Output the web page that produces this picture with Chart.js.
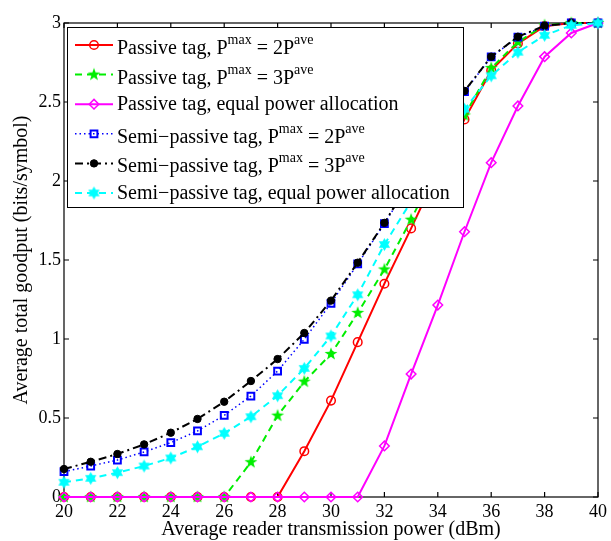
<!DOCTYPE html>
<html lang="en">
<head>
<meta charset="UTF-8">
<title>Average total goodput vs reader transmission power</title>
<script src="https://cdn.jsdelivr.net/npm/chart.js@4/dist/chart.umd.min.js"></script>
<style>
  body { margin: 0; background: #fff; }
  #wrap { width: 611px; height: 541px; }
</style>
</head>
<body>
<div id="wrap"><canvas id="chart" width="611" height="541"></canvas></div>
<script>
// reader transmission power (dBm)
const powerDbm = [20, 21, 22, 23, 24, 25, 26, 27, 28, 29, 30, 31, 32, 33, 34, 35, 36, 37, 38, 39, 40];

// goodput (bits/symbol) per curve
const passive2x   = [0, 0, 0, 0, 0, 0, 0, 0, 0, 0.29, 0.61, 0.98, 1.35, 1.70, 2.06, 2.39, 2.70, 2.87, 2.98, 3.0, 3.0];
const passive3x   = [0, 0, 0, 0, 0, 0, 0, 0.22, 0.515, 0.73, 0.905, 1.165, 1.44, 1.755, 2.10, 2.415, 2.715, 2.88, 2.985, 3.0, 3.0];
const passiveEq   = [0, 0, 0, 0, 0, 0, 0, 0, 0, 0, 0, 0, 0.323, 0.778, 1.215, 1.679, 2.116, 2.475, 2.787, 2.937, 3.0];
const semi2x      = [0.16, 0.196, 0.234, 0.285, 0.344, 0.418, 0.517, 0.639, 0.797, 0.998, 1.226, 1.475, 1.73, 2.0, 2.29, 2.565, 2.785, 2.91, 2.98, 3.0, 3.0];
const semi3x      = [0.177, 0.223, 0.272, 0.333, 0.407, 0.494, 0.603, 0.734, 0.873, 1.038, 1.243, 1.483, 1.735, 2.01, 2.30, 2.57, 2.787, 2.913, 2.983, 3.0, 3.0];
const semiEq      = [0.093, 0.118, 0.154, 0.196, 0.247, 0.318, 0.403, 0.508, 0.641, 0.814, 1.019, 1.28, 1.598, 1.87, 2.17, 2.454, 2.666, 2.815, 2.922, 2.985, 3.0];

const xTicks = [20, 22, 24, 26, 28, 30, 32, 34, 36, 38, 40];
const yTicks = [0, 0.5, 1, 1.5, 2, 2.5, 3];

// legend text, odd entries are superscripts
const legendLabels = [
  ['Passive tag, P', 'max', ' = 2P', 'ave'],
  ['Passive tag, P', 'max', ' = 3P', 'ave'],
  ['Passive tag, equal power allocation'],
  ['Semi\u2212passive tag, P', 'max', ' = 2P', 'ave'],
  ['Semi\u2212passive tag, P', 'max', ' = 3P', 'ave'],
  ['Semi\u2212passive tag, equal power allocation']
];

const FONT = "'Liberation Serif', 'Times New Roman', serif";

// filled star marker as a small canvas
function starCanvas(color, points, outer, inner) {
  const size = Math.ceil(outer * 2 + 2);
  const c = document.createElement('canvas');
  c.width = size; c.height = size;
  const g = c.getContext('2d');
  g.translate(size / 2, size / 2);
  g.beginPath();
  for (let i = 0; i < points * 2; i++) {
    const r = i % 2 ? inner : outer;
    const a = -Math.PI / 2 + i * Math.PI / points;
    g.lineTo(r * Math.cos(a), r * Math.sin(a));
  }
  g.closePath();
  g.fillStyle = color;
  g.fill();
  return c;
}

function series(label, values, opts) {
  return Object.assign({
    label: label,
    data: values.map((v, i) => ({ x: powerDbm[i], y: v })),
    fill: false,
    tension: 0,
    clip: false,
    pointBackgroundColor: 'rgba(0,0,0,0)',
    pointBorderWidth: 1.5
  }, opts);
}

const datasets = [
  series('passive 2x', passive2x, {
    borderColor: '#ff0000', borderWidth: 2, pointStyle: 'circle', pointRadius: 4.3,
    pointBorderColor: '#ff0000', order: 6
  }),
  series('passive 3x', passive3x, {
    borderColor: '#00ee00', borderWidth: 2, borderDash: [7, 5],
    pointStyle: starCanvas('#00ee00', 5, 6.8, 2.7), pointRadius: 6, order: 5
  }),
  series('passive eq', passiveEq, {
    borderColor: '#ff00ff', borderWidth: 2, pointStyle: 'rectRot', pointRadius: 4.8,
    pointBorderColor: '#ff00ff', order: 4
  }),
  series('semi 2x', semi2x, {
    borderColor: '#0000ff', borderWidth: 1.5, borderDash: [1.5, 3], pointStyle: 'rect', pointRadius: 4.8,
    pointBorderColor: '#0000ff', pointBorderWidth: 2, order: 3
  }),
  series('semi 3x', semi3x, {
    borderColor: '#000000', borderWidth: 2, borderDash: [8, 4, 2, 4], pointStyle: 'circle', pointRadius: 3.7,
    pointBorderColor: '#000000', pointBackgroundColor: '#000000', pointBorderWidth: 1, order: 2
  }),
  series('semi eq', semiEq, {
    borderColor: '#00ffff', borderWidth: 2, borderDash: [7, 5],
    pointStyle: starCanvas('#00ffff', 6, 6.5, 3.75), pointRadius: 6, order: 1
  })
];

function drawMarker(ctx, ds, cx, cy) {
  const st = ds.pointStyle, r = ds.pointRadius;
  ctx.save();
  ctx.setLineDash([]);
  ctx.lineWidth = ds.pointBorderWidth;
  ctx.strokeStyle = ds.pointBorderColor || ds.borderColor;
  ctx.fillStyle = ds.pointBackgroundColor;
  if (typeof st !== 'string') {
    ctx.drawImage(st, cx - st.width / 2, cy - st.height / 2);
  } else {
    ctx.beginPath();
    if (st === 'circle') ctx.arc(cx, cy, r, 0, Math.PI * 2);
    else if (st === 'rect') { const s = r * Math.SQRT1_2; ctx.rect(cx - s, cy - s, 2 * s, 2 * s); }
    else if (st === 'rectRot') { ctx.moveTo(cx, cy - r); ctx.lineTo(cx + r, cy); ctx.lineTo(cx, cy + r); ctx.lineTo(cx - r, cy); ctx.closePath(); }
    ctx.fill();
    ctx.stroke();
  }
  ctx.restore();
}

// box and inward ticks, drawn under the data
const framePlugin = {
  id: 'frame',
  beforeDatasetsDraw(chart) {
    const { ctx, chartArea: a, scales: { x, y } } = chart;
    const tl = 5;
    ctx.save();
    ctx.strokeStyle = '#000';
    ctx.lineWidth = 1.2;
    ctx.strokeRect(a.left, a.top, a.right - a.left, a.bottom - a.top);
    ctx.beginPath();
    xTicks.forEach(v => {
      const px = x.getPixelForValue(v);
      ctx.moveTo(px, a.bottom); ctx.lineTo(px, a.bottom - tl);
      ctx.moveTo(px, a.top); ctx.lineTo(px, a.top + tl);
    });
    yTicks.forEach(v => {
      const py = y.getPixelForValue(v);
      ctx.moveTo(a.left, py); ctx.lineTo(a.left + tl, py);
      ctx.moveTo(a.right, py); ctx.lineTo(a.right - tl, py);
    });
    ctx.stroke();
    ctx.restore();
  }
};

// boxed legend with superscripts, drawn over the data
const legendPlugin = {
  id: 'boxLegend',
  afterDatasetsDraw(chart) {
    const { ctx, chartArea: a } = chart;
    const left = a.left + 3, top = a.top + 4, w = 396, h = 180;
    ctx.save();
    ctx.fillStyle = '#fff';
    ctx.fillRect(left, top, w, h);
    ctx.strokeStyle = '#000';
    ctx.lineWidth = 1;
    ctx.strokeRect(left + 0.5, top + 0.5, w, h);
    datasets.forEach((ds, i) => {
      const ly = top + 18 + i * 29.6;
      ctx.save();
      ctx.strokeStyle = ds.borderColor;
      ctx.lineWidth = ds.borderWidth;
      ctx.setLineDash(ds.borderDash || []);
      ctx.beginPath();
      ctx.moveTo(left + 8, ly);
      ctx.lineTo(left + 46, ly);
      ctx.stroke();
      ctx.restore();
      drawMarker(ctx, ds, left + 27, ly);

      const parts = legendLabels[i];
      const base = ly + (parts.length > 1 ? 9 : 6);
      let tx = left + 50;
      ctx.fillStyle = '#000';
      ctx.textBaseline = 'alphabetic';
      parts.forEach((p, k) => {
        const sup = k % 2 === 1;
        ctx.font = (sup ? 14 : 20) + 'px ' + FONT;
        ctx.fillText(p, tx, sup ? base - 10 : base);
        tx += ctx.measureText(p).width;
      });
    });
    ctx.restore();
  }
};

new Chart(document.getElementById('chart'), {
  type: 'line',
  data: { datasets: datasets },
  plugins: [framePlugin, legendPlugin],
  options: {
    responsive: false,
    animation: false,
    layout: { padding: { left: 0, top: 23, right: 11, bottom: 0 } },
    plugins: { legend: { display: false }, tooltip: { enabled: false } },
    scales: {
      x: {
        type: 'linear', min: 20, max: 40,
        afterBuildTicks: s => { s.ticks = xTicks.map(v => ({ value: v })); },
        afterFit: s => { s.height = 44; },
        grid: { display: false, drawTicks: false },
        border: { display: false },
        ticks: { font: { family: FONT, size: 18 }, color: '#000', padding: 4, maxRotation: 0, autoSkip: false },
        title: {
          display: true, text: 'Average reader transmission power (dBm)', color: '#000',
          font: { family: FONT, size: 20, lineHeight: 1.1 }, padding: 0
        }
      },
      y: {
        type: 'linear', min: 0, max: 3,
        afterBuildTicks: s => { s.ticks = yTicks.map(v => ({ value: v })); },
        afterFit: s => { s.width = 64; },
        grid: { display: false, drawTicks: false },
        border: { display: false },
        ticks: { font: { family: FONT, size: 18 }, color: '#000', padding: 3, callback: v => String(v) },
        title: {
          display: true, text: 'Average total goodput (bits/symbol)', color: '#000',
          font: { family: FONT, size: 20, lineHeight: 1.1 }, padding: { top: 11, bottom: 0 }
        }
      }
    }
  }
});
</script>
</body>
</html>
